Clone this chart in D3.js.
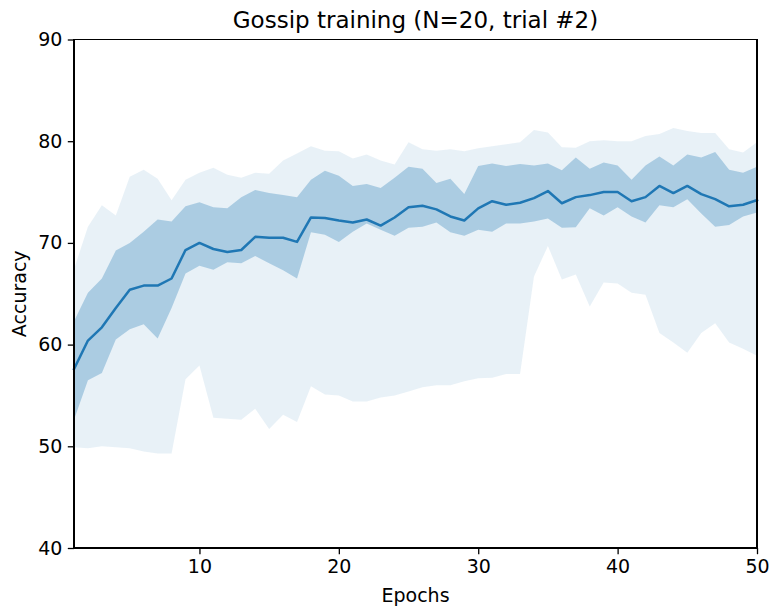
<!DOCTYPE html>
<html>
<head>
<meta charset="utf-8">
<script src="https://cdn.jsdelivr.net/npm/d3@7"></script>
<style>
  html, body { margin: 0; padding: 0; background: #fff; }
  svg { display: block; font-family: "DejaVu Sans", sans-serif; }
</style>
</head>
<body>
<svg id="chart" width="771" height="611"></svg>
<script>
// Accuracy per epoch across the 20 gossip nodes
const epochs = d3.range(1, 51);

const meanAcc = [
  57.6, 60.4, 61.7, 63.6, 65.4, 65.8, 65.8, 66.5, 69.3, 70.0,
  69.4, 69.1, 69.3, 70.6, 70.5, 70.5, 70.1, 72.5, 72.45, 72.2,
  72.0, 72.3, 71.7, 72.5, 73.5, 73.65, 73.3, 72.6, 72.2, 73.4,
  74.1, 73.75, 73.95, 74.4, 75.1, 73.9, 74.5, 74.7, 75.0, 75.0,
  74.1, 74.5, 75.6, 74.9, 75.6, 74.8, 74.3, 73.6, 73.75, 74.2
];

const stdUpper = [
  62.3, 65.1, 66.5, 69.25, 70.0, 71.1, 72.3, 72.1, 73.6, 74.0,
  73.5, 73.4, 74.5, 75.2, 74.9, 74.7, 74.5, 76.2, 77.1, 76.6,
  75.6, 75.8, 75.4, 76.4, 77.5, 77.3, 75.9, 76.3, 74.8, 77.55,
  77.8, 77.55, 77.75, 77.6, 77.8, 77.15, 78.4, 77.3, 77.9, 77.6,
  76.2, 77.6, 78.5, 77.6, 78.7, 78.4, 78.95, 77.2, 76.9, 77.5
];

const stdLower = [
  52.6, 56.5, 57.2, 60.5, 61.5, 62.0, 60.6, 63.6, 67.0, 67.75,
  67.35, 68.1, 68.0, 68.7, 68.0, 67.3, 66.5, 71.05, 70.8, 70.1,
  71.1, 71.9, 71.3, 70.7, 71.5, 71.6, 72.0, 71.05, 70.7, 71.3,
  71.1, 71.9, 71.9, 72.1, 72.4, 71.5, 71.55, 73.4, 72.7, 73.5,
  72.6, 72.0, 73.7, 73.5, 74.3, 72.9, 71.6, 71.75, 72.6, 73.0
];

const maxAcc = [
  67.4, 71.6, 73.7, 72.7, 76.5, 77.2, 76.3, 74.2, 76.2, 76.9,
  77.4, 76.7, 76.4, 76.9, 76.8, 78.1, 78.8, 79.5, 79.05, 79.0,
  78.3, 78.7, 78.1, 77.7, 79.9, 79.2, 79.05, 79.2, 79.0, 79.3,
  79.5, 79.7, 79.9, 81.1, 80.85, 79.4, 79.35, 80.0, 80.1, 80.0,
  80.0, 80.5, 80.7, 81.3, 81.0, 80.8, 80.8, 79.2, 78.9, 79.9
];

const minAcc = [
  49.9, 49.8, 50.0, 49.9, 49.8, 49.5, 49.3, 49.3, 56.6, 57.95,
  52.8, 52.7, 52.6, 53.7, 51.7, 53.1, 52.4, 55.9, 55.1, 55.0,
  54.4, 54.4, 54.8, 55.0, 55.4, 55.8, 56.0, 56.0, 56.4, 56.7,
  56.75, 57.1, 57.1, 66.7, 69.7, 66.4, 66.9, 63.75, 66.1, 66.0,
  65.1, 64.9, 61.15, 60.2, 59.2, 61.15, 62.1, 60.2, 59.6, 58.9
];

const xTicks = [10, 20, 30, 40, 50];
const yTicks = [40, 50, 60, 70, 80, 90];

const titleText = "Gossip training (N=20, trial #2)";
const xLabel = "Epochs";
const yLabel = "Accuracy";

const W = 771, H = 611;
const margin = { left: 74, right: 14, top: 39.5, bottom: 63 };
const plotW = W - margin.left - margin.right;
const plotH = H - margin.top - margin.bottom;
const blue = "#1f77b4";
const fontSize = 19;

const svg = d3.select("#chart");
const g = svg.append("g").attr("transform", `translate(${margin.left},${margin.top})`);

const x = d3.scaleLinear().domain([1, 50]).range([0, plotW]);
const y = d3.scaleLinear().domain([40, 90]).range([plotH, 0]);

const rows = epochs.map((e, i) => ({
  e, mean: meanAcc[i], lo: stdLower[i], hi: stdUpper[i], mn: minAcc[i], mx: maxAcc[i]
}));

// min/max envelope
g.append("path")
  .datum(rows)
  .attr("fill", blue)
  .attr("fill-opacity", 0.1)
  .attr("d", d3.area().x(d => x(d.e)).y0(d => y(d.mn)).y1(d => y(d.mx)));

// mean ± std band
g.append("path")
  .datum(rows)
  .attr("fill", blue)
  .attr("fill-opacity", 0.3)
  .attr("d", d3.area().x(d => x(d.e)).y0(d => y(d.lo)).y1(d => y(d.hi)));

// mean accuracy
g.append("path")
  .datum(rows)
  .attr("fill", "none")
  .attr("stroke", blue)
  .attr("stroke-width", 2.5)
  .attr("stroke-linejoin", "round")
  .attr("stroke-linecap", "square")
  .attr("d", d3.line().x(d => x(d.e)).y(d => y(d.mean)));

// axes
const xAxis = d3.axisBottom(x).tickValues(xTicks).tickSize(6.2).tickPadding(5.5).tickSizeOuter(0);
const yAxis = d3.axisLeft(y).tickValues(yTicks).tickSize(6.2).tickPadding(5.5).tickSizeOuter(0);

const gx = g.append("g").attr("transform", `translate(0,${plotH})`).call(xAxis);
const gy = g.append("g").call(yAxis);

[gx, gy].forEach(a => {
  a.select(".domain").remove();
  a.selectAll(".tick line").attr("stroke", "#000").attr("stroke-width", 1.3);
  a.selectAll(".tick text")
    .attr("fill", "#000")
    .style("font-family", "'DejaVu Sans', sans-serif")
    .style("font-size", fontSize + "px");
});

// frame
g.append("rect")
  .attr("x", 0).attr("y", 0)
  .attr("width", plotW).attr("height", plotH)
  .attr("fill", "none")
  .attr("stroke", "#000")
  .attr("stroke-width", 1.3)
  .attr("shape-rendering", "crispEdges");

// labels
svg.append("text")
  .attr("x", margin.left + plotW / 2)
  .attr("y", 28)
  .attr("text-anchor", "middle")
  .style("font-size", "23px")
  .text(titleText);

svg.append("text")
  .attr("x", margin.left + plotW / 2)
  .attr("y", 602)
  .attr("text-anchor", "middle")
  .style("font-size", fontSize + "px")
  .text(xLabel);

svg.append("text")
  .attr("transform", `translate(26,${margin.top + plotH / 2}) rotate(-90)`)
  .attr("text-anchor", "middle")
  .style("font-size", fontSize + "px")
  .text(yLabel);
</script>
</body>
</html>
